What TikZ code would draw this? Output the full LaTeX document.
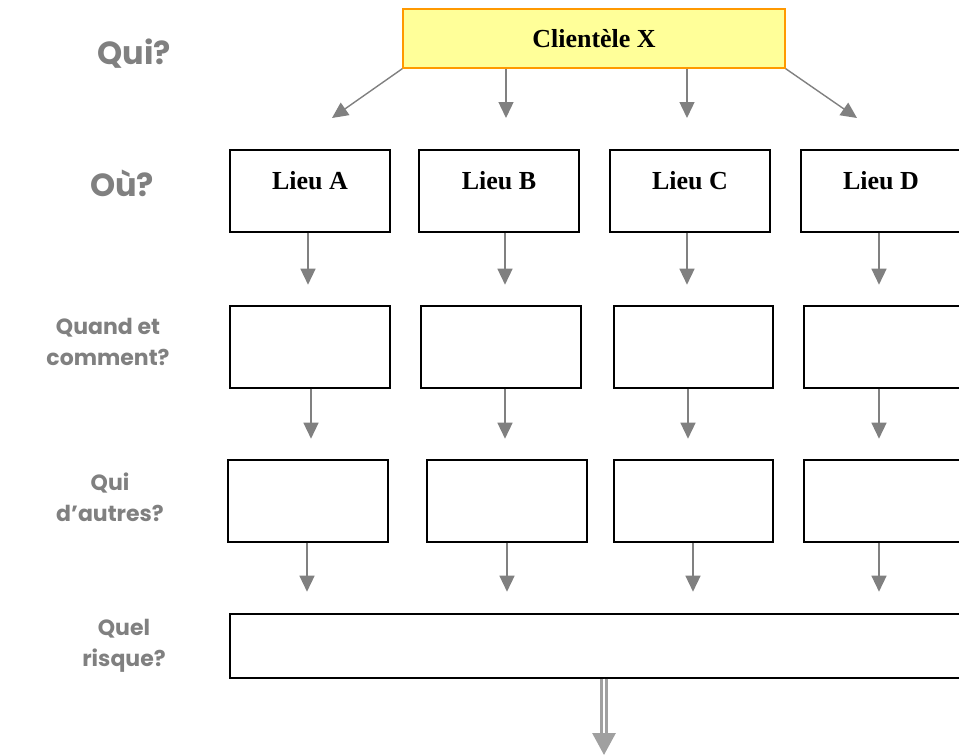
\documentclass[tikz,border=0pt]{standalone}
\usepackage{fontspec}
\setmainfont{Liberation Serif}
\newfontfamily\labfont{Poppins}
\usetikzlibrary{arrows.meta}
\definecolor{boxyellow}{HTML}{FFFF99}
\definecolor{boxorange}{HTML}{FF9900}
\definecolor{arrgray}{HTML}{808080}
\definecolor{dblgray}{HTML}{A0A0A0}
\definecolor{labgray}{HTML}{808080}
\begin{document}
\begin{tikzpicture}[x=1pt,y=-1pt,
  box/.style={draw=black,line width=1.4pt,minimum width=160pt,minimum height=82pt,inner sep=0pt,font=\bfseries\fontsize{26}{30}\selectfont},
  lieubox/.style={box,text height=17pt,text depth=21pt},
  topbox/.style={draw=boxorange,fill=boxyellow,line width=1.4pt,minimum width=382pt,minimum height=59pt,inner sep=0pt,font=\bfseries\fontsize{26}{30}\selectfont},
  arr/.style={draw=arrgray,line width=1.4pt,-{Triangle[width=15pt,length=16pt]}},
  lab/.style={text=labgray,align=center,font=\labfont\bfseries\fontsize{22}{31}\selectfont},
  biglab/.style={lab,font=\labfont\bfseries\fontsize{32}{36}\selectfont}]
\useasboundingbox (0,0) rectangle (959,755);
% labels
\node[biglab] (lq) at (134,54) {Qui?};
\node[biglab] (lo) at (122,183) {Où?};
\node[lab] (lqc) at (108,342) {Quand et\\comment?};
\node[lab] (lqa) at (110,497) {Qui\\d’autres?};
\node[lab] (lqr) at (124,646) {Quel\\risque?};
% top
\node[topbox] (cx) at (594,38.5) {Clientèle X};
% row 1
\node[lieubox] (a1) at (310,191) {Lieu A};
\node[lieubox] (b1) at (499,191) {Lieu B};
\node[lieubox] (c1) at (690,191) {Lieu C};
\node[lieubox] (d1) at (881,191) {Lieu D};
% row 2
\node[box] (a2) at (310,347) {};
\node[box] (b2) at (501,347) {};
\node[box, minimum width=159pt] (c2) at (693.5,347) {};
\node[box] (d2) at (884,347) {};
% row 3
\node[box] (a3) at (308,501) {};
\node[box] (b3) at (507,501) {};
\node[box, minimum width=159pt] (c3) at (693.5,501) {};
\node[box] (d3) at (884,501) {};
% row 4
\node[box, minimum width=734pt, minimum height=64pt] (r4) at (597,646) {};
% top arrows
\coordinate (ta) at (332,118);
\coordinate (tb) at (506,118);
\coordinate (tc) at (687,118);
\coordinate (td) at (857,118);
\draw[arr] (cx.south west) -- (ta);
\draw[arr] (cx.south -| tb) -- (tb);
\draw[arr] (cx.south -| tc) -- (tc);
\draw[arr] (cx.south east) -- (td);
% row1 arrows
\draw[arr] ([xshift=-2pt]a1.south) -- ++(0,52);
\draw[arr] ([xshift=6pt]b1.south) -- ++(0,52);
\draw[arr] ([xshift=-3pt]c1.south) -- ++(0,52);
\draw[arr] ([xshift=-2pt]d1.south) -- ++(0,52);
% row2 arrows
\draw[arr] ([xshift=1pt]a2.south) -- ++(0,50);
\draw[arr] ([xshift=4pt]b2.south) -- ++(0,50);
\draw[arr] ([xshift=-5.5pt]c2.south) -- ++(0,50);
\draw[arr] ([xshift=-5pt]d2.south) -- ++(0,50);
% row3 arrows
\draw[arr] ([xshift=-1pt]a3.south) -- ++(0,49);
\draw[arr] (b3.south) -- ++(0,49);
\draw[arr] ([xshift=-0.5pt]c3.south) -- ++(0,49);
\draw[arr] ([xshift=-5pt]d3.south) -- ++(0,49);
% double arrow
\coordinate (dbl) at (604,755);
\draw[draw=dblgray,line width=3pt,double=white,double distance=2pt,-{Triangle[width=23pt,length=22pt]}] (r4.south -| dbl) -- (dbl);
\end{tikzpicture}
\end{document}
